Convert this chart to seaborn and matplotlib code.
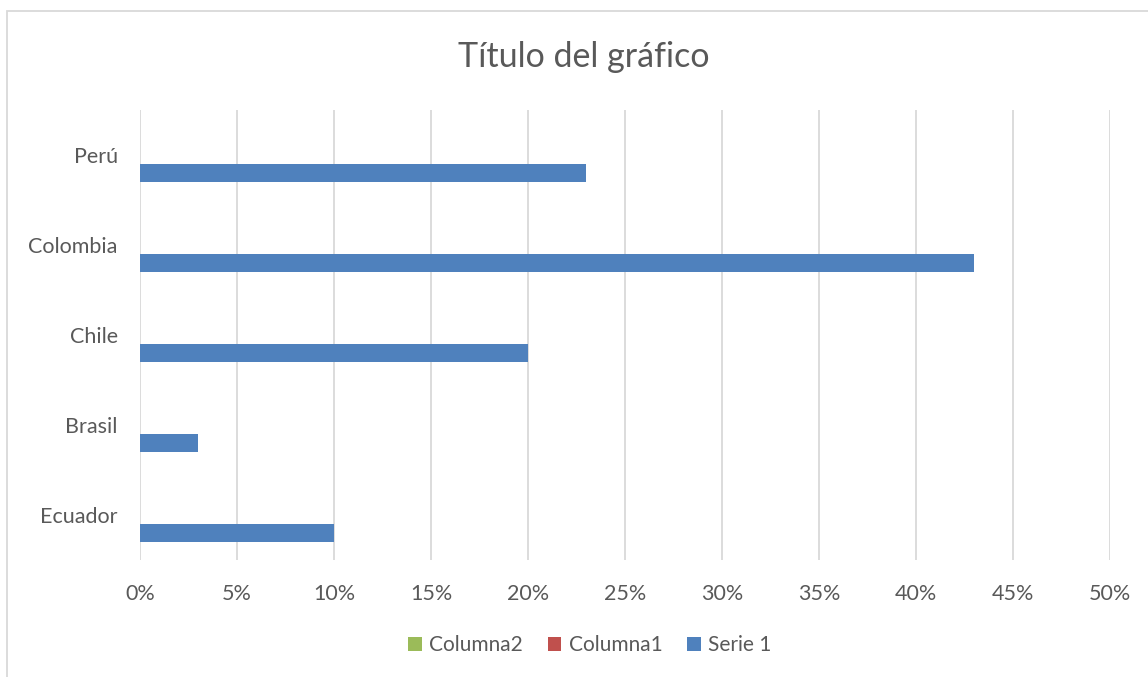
import matplotlib
matplotlib.use("Agg")
import matplotlib.pyplot as plt
import seaborn as sns
import pandas as pd
from matplotlib.patches import Rectangle
from matplotlib.ticker import FuncFormatter

categories = ["Perú", "Colombia", "Chile", "Brasil", "Ecuador"]
serie1 = [0.23, 0.43, 0.20, 0.03, 0.10]
columna1 = [0.0, 0.0, 0.0, 0.0, 0.0]
columna2 = [0.0, 0.0, 0.0, 0.0, 0.0]
series_names = ["Columna2", "Columna1", "Serie 1"]
colors = ["#9BBB59", "#C0504D", "#4F81BD"]
xticks = [0, 0.05, 0.10, 0.15, 0.20, 0.25, 0.30, 0.35, 0.40, 0.45, 0.50]

rows = []
for name, vals in zip(series_names, [columna2, columna1, serie1]):
    for c, v in zip(categories, vals):
        rows.append({"pais": c, "valor": v, "serie": name})
df = pd.DataFrame(rows)

sns.set_style("white")
plt.rcParams["font.family"] = ["Lato", "DejaVu Sans"]
text_color = "#595959"

fig = plt.figure(figsize=(11.48, 6.77), dpi=100)
ax = fig.add_axes([140/1148, 1-560/677, (1110-140)/1148, (560-110)/677])

sns.barplot(data=df, x="valor", y="pais", hue="serie", order=categories,
            hue_order=series_names, palette=colors, orient="h", width=0.6,
            linewidth=0, errorbar=None, saturation=1, ax=ax)

ax.set_xlim(0, 0.5)
ax.set_xticks(xticks)
ax.xaxis.set_major_formatter(FuncFormatter(lambda v, p: f"{round(v*100)}%"))
ax.grid(axis="x", color="#D9D9D9", linewidth=1.3)
ax.set_axisbelow(True)
for s in ax.spines.values():
    s.set_visible(False)
ax.tick_params(axis="both", length=0, colors=text_color, labelsize=15.5)
ax.tick_params(axis="x", pad=17)
ax.tick_params(axis="y", pad=16)
ax.set_xlabel("")
ax.set_ylabel("")

fig.text(584/1148, 1-57/677, "Título del gráfico", ha="center", va="center",
         fontsize=24.5, color=text_color)

leg = ax.legend(loc="center", bbox_to_anchor=(590/1148, 1-645/677),
                bbox_transform=fig.transFigure, ncol=3, frameon=False,
                fontsize=15, handlelength=0.65, handleheight=0.65,
                handletextpad=0.35, columnspacing=1.2)
for t in leg.get_texts():
    t.set_color(text_color)

fig.patches.append(Rectangle((7/1148, -0.1), 1.2, 1-11/677+0.1,
                             transform=fig.transFigure, fill=False,
                             edgecolor="#D9D9D9", linewidth=1.3))

fig.savefig("out.png", dpi=100, facecolor="white")
